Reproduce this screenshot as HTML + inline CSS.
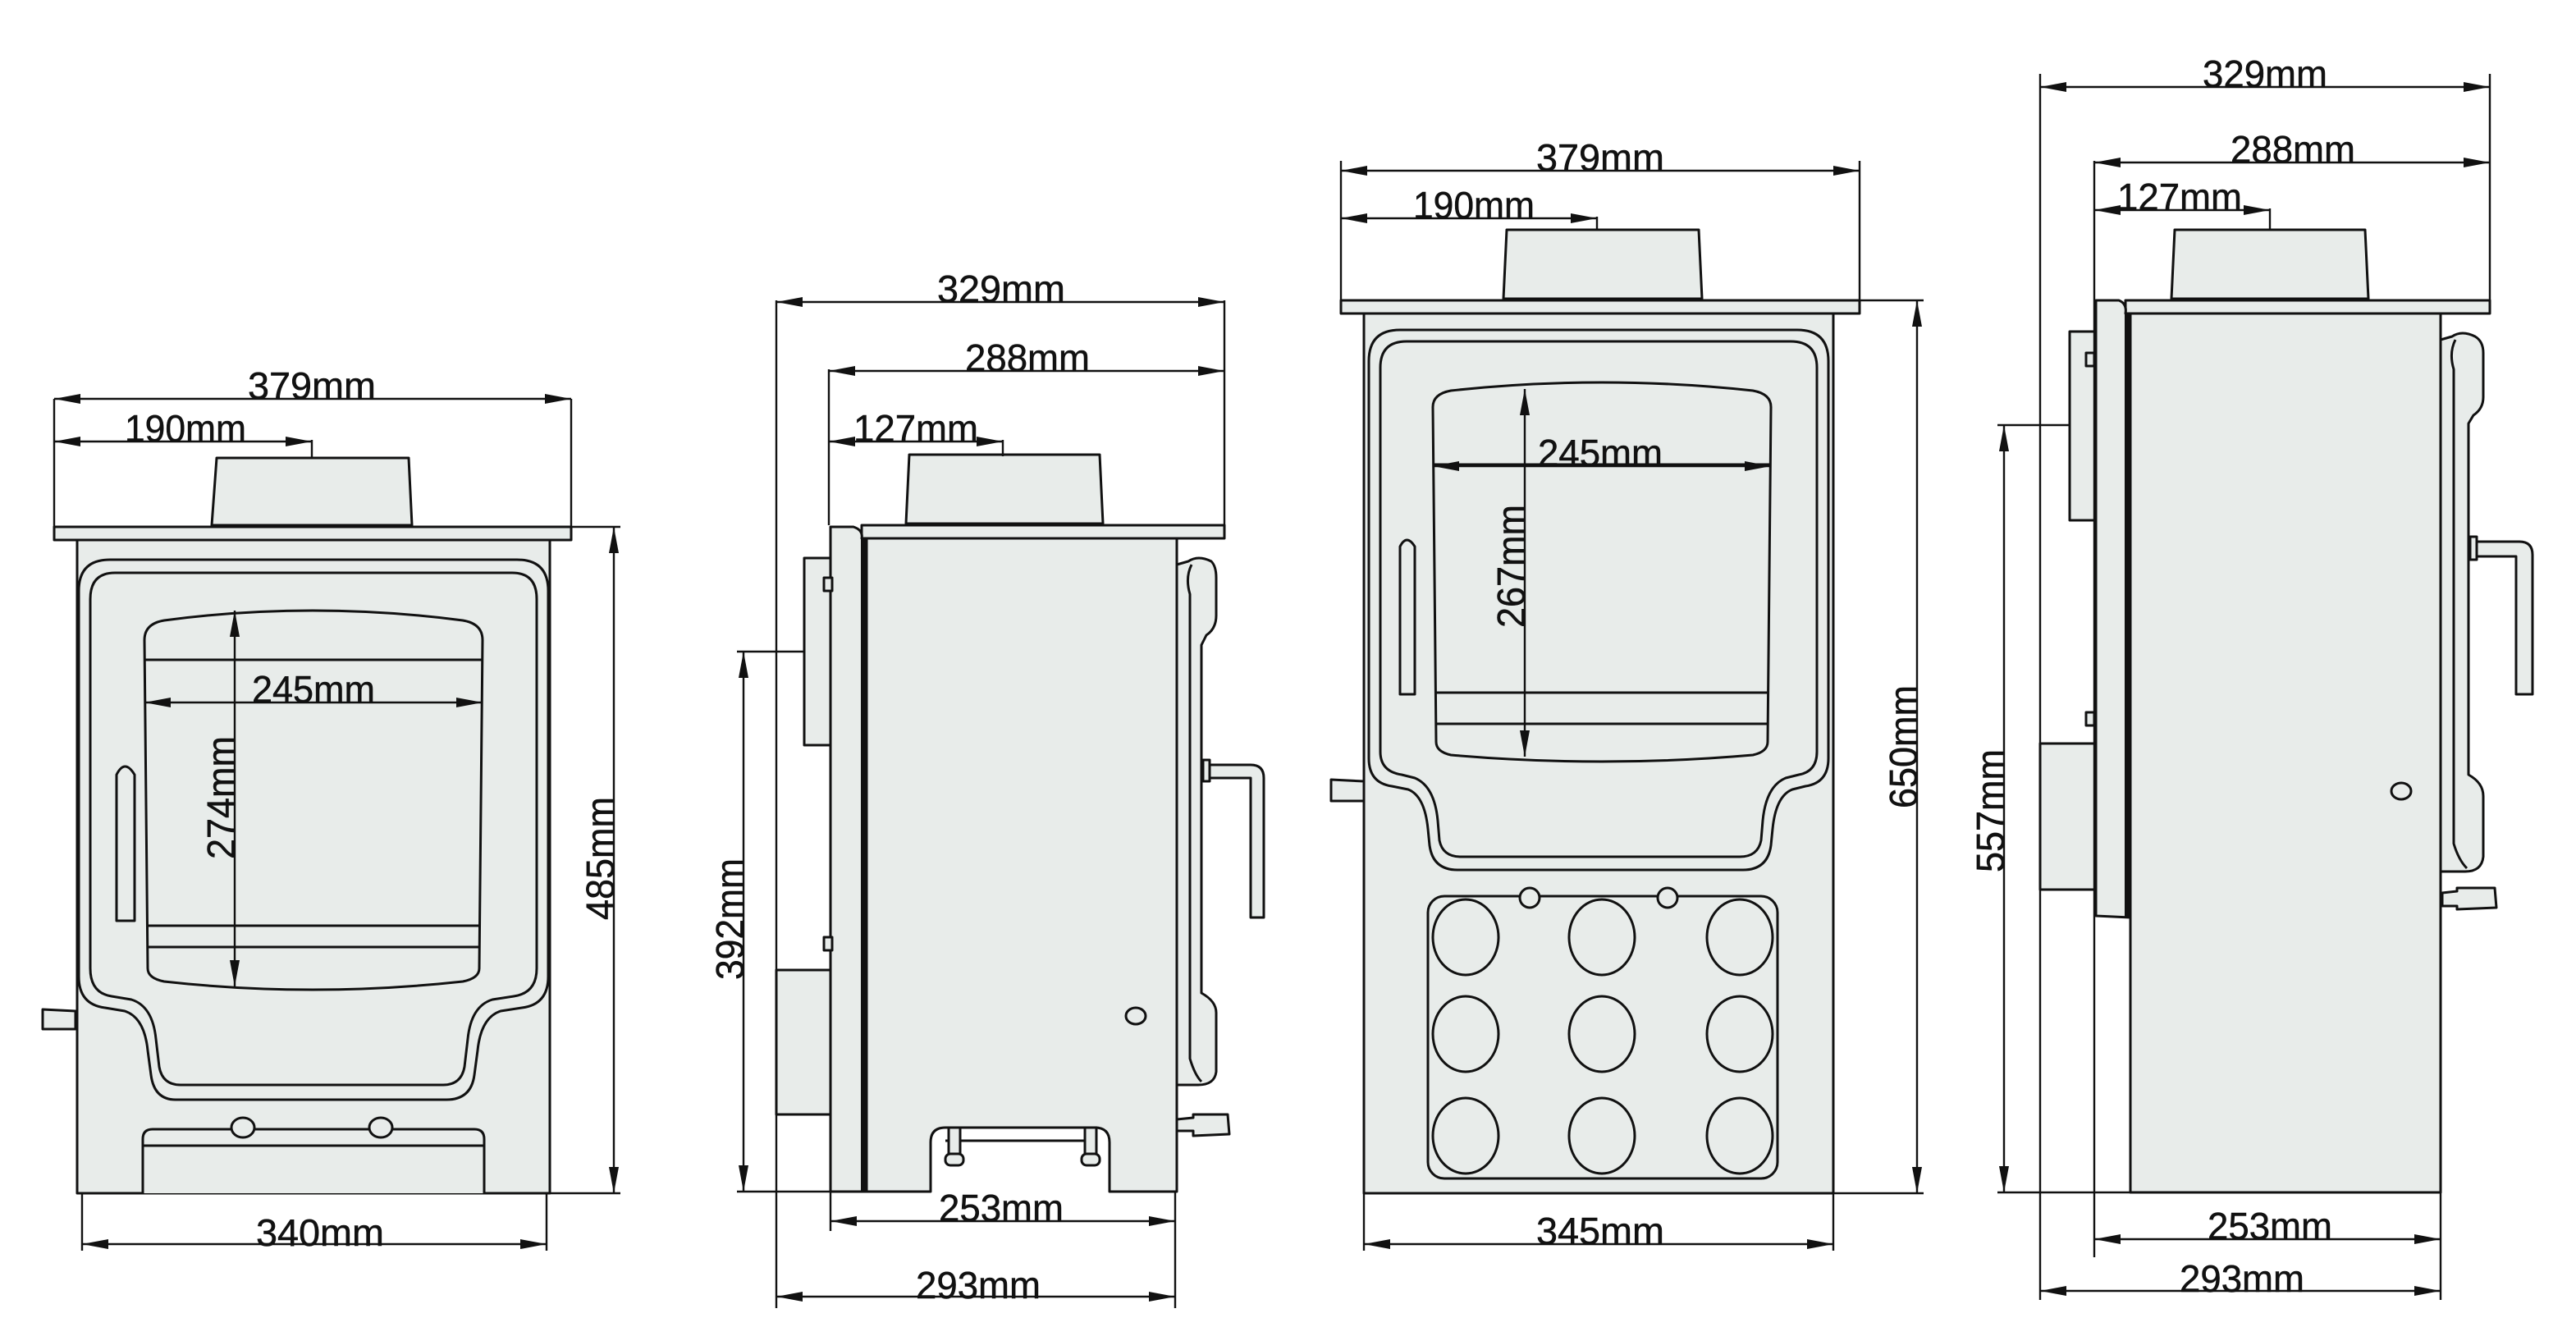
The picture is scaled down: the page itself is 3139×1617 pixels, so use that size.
<!DOCTYPE html>
<html><head><meta charset="utf-8"><style>
html,body{margin:0;padding:0;background:#fff;}
svg{display:block;}
text{font-family:"Liberation Sans",Arial,sans-serif;font-size:23px;fill:#111;stroke:#111;stroke-width:0.25;}
</style></head><body>
<svg width="3139" height="1617" viewBox="0 0 1569.5 808.5" xmlns="http://www.w3.org/2000/svg">
<defs>
<marker id="a" viewBox="0 0 16 6" refX="16" refY="3" markerWidth="16" markerHeight="6" markerUnits="userSpaceOnUse" orient="auto-start-reverse"><path d="M0,0 L16,3 L0,6 Z" fill="#111"/></marker>
</defs>
<rect width="1569.5" height="808.5" fill="#fff"/>
<g fill="#e8ecea" stroke="#111" stroke-width="1.5" stroke-linejoin="round">
<!-- ===== STOVE 1 ===== -->
<path d="M132,279 L249,279 L251,320 L129,320 Z"/>
<rect x="33" y="321" width="315" height="8"/>
<rect x="47" y="329" width="288" height="398"/>
<path d="M48,360 Q48,341 67,341 L315,341 Q334,341 334,360 L334,595 Q334,612 318,614 L305,616 Q293,620 291,640 L289,655 Q287,670 272,670 L107,670 Q94,670 92,655 L90,640 Q88,620 76,616 L64,614 Q48,612 48,595 Z"/>
<path d="M55,365 Q55,349 70,349 L312,349 Q327,349 327,365 L327,590 Q327,605 313,607 L300,609 Q287,613 285,633 L283,650 Q281,661 270,661 L110,661 Q99,661 97,650 L95,633 Q93,613 80,609 L68,607 Q55,605 55,590 Z"/>
<path d="M88,390 Q88,380 100,378 Q190,366 282,378 Q294,380 294,390 L292,590 Q292,596 282,598 Q190,608 100,598 Q90,596 90,590 Z"/>
<line x1="88" y1="402" x2="294" y2="402"/>
<line x1="90" y1="564" x2="292" y2="564"/>
<line x1="90" y1="577" x2="292" y2="577"/>
<path d="M71,561 L71,472 Q76,462 82,472 L82,561 Z"/>
<path d="M26,615 L46,616 L46,627 L26,627 Z"/>
<path d="M87,727 L87,694 Q87,688 93,688 L289,688 Q295,688 295,694 L295,727"/>
<line x1="87" y1="698" x2="295" y2="698"/>
<ellipse cx="148" cy="687" rx="7" ry="6"/>
<ellipse cx="232" cy="687" rx="7" ry="6"/>
<!-- ===== STOVE 2 ===== -->
<rect x="490" y="340" width="16" height="114"/>
<rect x="473" y="591" width="33" height="88"/>
<path d="M554,277 L670,277 L672,319 L552,319 Z"/>
<rect x="525" y="320" width="221" height="8"/>
<path d="M506,321 L520,321 Q526,323 525,328 L528,328 L528,726 L506,726 Z"/>
<line x1="526" y1="328" x2="526" y2="726" stroke-width="3"/>
<path d="M528,328 L717,328 L717,726 L676,726 L676,696 Q676,687 667,687 L576,687 Q567,687 567,696 L567,726 L528,726 Z"/>
<line x1="576" y1="695" x2="667" y2="695"/>
<rect x="578" y="687" width="7" height="20"/><rect x="661" y="687" width="7" height="20"/>
<rect x="576" y="703" width="11" height="7" rx="3"/><rect x="659" y="703" width="11" height="7" rx="3"/>
<rect x="502" y="352" width="5" height="8"/><rect x="502" y="571" width="5" height="8"/>
<ellipse cx="692" cy="619" rx="6" ry="5"/>
<path d="M717,344 L724,342 Q730,338 738,342 Q741,345 741,352 L741,375 Q741,383 735,387 L732,393 L732,605 Q741,610 741,617 L741,653 Q740,661 730,661 L717,661 Z"/>
<path d="M726,344 Q722,352 725,362 L725,645 Q728,655 732,659" fill="none"/>
<path d="M734,466 L762,466 Q770,466 770,474 L770,559 L762,559 L762,474 L735,474 Z"/>
<rect x="733" y="463" width="4" height="13"/>
<path d="M717,682 L727,681 L727,679 L748,679 L749,691 L727,692 L727,689 L717,689 Z"/>
<!-- ===== STOVE 3 ===== -->
<path d="M918,140 L1035,140 L1037,182 L916,182 Z"/>
<rect x="817" y="183" width="316" height="8"/>
<rect x="831" y="191" width="286" height="536"/>
<path d="M834,220 Q834,201 853,201 L1095,201 Q1114,201 1114,220 L1114,462 Q1114,477 1100,479 L1092,481 Q1082,485 1080,505 L1079,515 Q1077,530 1062,530 L888,530 Q873,530 871,515 L870,505 Q868,485 858,481 L848,479 Q834,477 834,462 Z"/>
<path d="M841,224 Q841,208 857,208 L1091,208 Q1107,208 1107,224 L1107,458 Q1107,470 1096,472 L1088,474 Q1076,479 1074,500 L1073,512 Q1071,522 1060,522 L890,522 Q879,522 877,512 L876,500 Q874,479 862,474 L854,472 Q841,470 841,458 Z"/>
<path d="M873,248 Q873,240 884,238 Q976,228 1068,238 Q1079,240 1079,248 L1077,452 Q1077,458 1068,460 Q976,468 884,460 Q875,458 875,452 Z"/>
<line x1="873" y1="283" x2="1079" y2="283"/>
<line x1="875" y1="422" x2="1077" y2="422"/>
<line x1="875" y1="441" x2="1077" y2="441"/>
<path d="M853,423 L853,333 Q857,325 862,333 L862,423 Z"/>
<path d="M811,475 L831,476 L831,488 L811,488 Z"/>
<rect x="870" y="546" width="213" height="172" rx="10"/>
<g>
<ellipse cx="893" cy="571" rx="20" ry="23"/><ellipse cx="976" cy="571" rx="20" ry="23"/><ellipse cx="1060" cy="571" rx="20" ry="23"/>
<ellipse cx="893" cy="630" rx="20" ry="23"/><ellipse cx="976" cy="630" rx="20" ry="23"/><ellipse cx="1060" cy="630" rx="20" ry="23"/>
<ellipse cx="893" cy="692" rx="20" ry="23"/><ellipse cx="976" cy="692" rx="20" ry="23"/><ellipse cx="1060" cy="692" rx="20" ry="23"/>
</g>
<ellipse cx="932" cy="547" rx="6" ry="6"/><ellipse cx="1016" cy="547" rx="6" ry="6"/>
<!-- ===== STOVE 4 ===== -->
<rect x="1261" y="202" width="16" height="115"/>
<rect x="1243" y="453" width="34" height="89"/>
<path d="M1325,140 L1441,140 L1443,182 L1323,182 Z"/>
<rect x="1295" y="183" width="222" height="8"/>
<path d="M1277,183 L1291,183 Q1296,185 1295,191 L1298,191 L1298,559 L1277,558 Z"/>
<line x1="1296" y1="191" x2="1296" y2="559" stroke-width="3"/>
<rect x="1298" y="191" width="189" height="535.5"/>
<rect x="1271" y="215" width="5" height="8"/><rect x="1271" y="434" width="5" height="8"/>
<ellipse cx="1463" cy="482" rx="6" ry="5"/>
<path d="M1487,207 L1494,205 Q1500,201 1508,205 Q1513,208 1513,215 L1513,242 Q1513,249 1507,253 L1504,258 L1504,472 Q1513,477 1513,485 L1513,522 Q1512,531 1502,531 L1487,531 Z"/>
<path d="M1496,207 Q1492,215 1495,225 L1495,514 Q1498,524 1503,529" fill="none"/>
<path d="M1507,330 L1535,330 Q1543,330 1543,338 L1543,423 L1533,423 L1533,339 L1508,339 Z"/>
<rect x="1505" y="327" width="4" height="14"/>
<path d="M1488,544 L1497,543 L1497,541 L1520,541 L1521,553 L1497,554 L1497,552 L1488,552 Z"/>
</g>
<!-- ===== DIMENSIONS ===== -->
<g stroke="#111" stroke-width="1.2" fill="none">
<!-- S1 -->
<line x1="33" y1="243" x2="33" y2="321"/><line x1="348" y1="243" x2="348" y2="321"/>
<line x1="33" y1="243" x2="348" y2="243" marker-start="url(#a)" marker-end="url(#a)"/>
<line x1="33" y1="269" x2="190" y2="269" marker-start="url(#a)" marker-end="url(#a)"/>
<line x1="190" y1="268" x2="190" y2="279"/>
<line x1="88" y1="428" x2="294" y2="428" marker-start="url(#a)" marker-end="url(#a)"/>
<line x1="143" y1="372" x2="143" y2="601" marker-start="url(#a)" marker-end="url(#a)"/>
<line x1="348" y1="321" x2="378" y2="321"/><line x1="335" y1="727" x2="378" y2="727"/>
<line x1="374" y1="321" x2="374" y2="727" marker-start="url(#a)" marker-end="url(#a)"/>
<line x1="50" y1="727" x2="50" y2="762"/><line x1="333" y1="727" x2="333" y2="762"/>
<line x1="50" y1="758" x2="333" y2="758" marker-start="url(#a)" marker-end="url(#a)"/>
<!-- S2 -->
<line x1="473" y1="183" x2="473" y2="797"/><line x1="746" y1="183" x2="746" y2="328"/>
<line x1="473" y1="184" x2="746" y2="184" marker-start="url(#a)" marker-end="url(#a)"/>
<line x1="505" y1="225" x2="505" y2="320"/>
<line x1="505" y1="226" x2="746" y2="226" marker-start="url(#a)" marker-end="url(#a)"/>
<line x1="505" y1="269" x2="611" y2="269" marker-start="url(#a)" marker-end="url(#a)"/>
<line x1="611" y1="268" x2="611" y2="278"/>
<line x1="449" y1="397" x2="490" y2="397"/><line x1="449" y1="726" x2="528" y2="726"/>
<line x1="453" y1="397" x2="453" y2="726" marker-start="url(#a)" marker-end="url(#a)"/>
<line x1="506" y1="726" x2="506" y2="750"/><line x1="716" y1="726" x2="716" y2="797"/>
<line x1="506" y1="744" x2="716" y2="744" marker-start="url(#a)" marker-end="url(#a)"/>
<line x1="473" y1="790" x2="716" y2="790" marker-start="url(#a)" marker-end="url(#a)"/>
<!-- S3 -->
<line x1="817" y1="98" x2="817" y2="183"/><line x1="1133" y1="98" x2="1133" y2="183"/>
<line x1="817" y1="104" x2="1133" y2="104" marker-start="url(#a)" marker-end="url(#a)"/>
<line x1="817" y1="133" x2="973" y2="133" marker-start="url(#a)" marker-end="url(#a)"/>
<line x1="973" y1="132" x2="973" y2="140"/>
<line x1="873" y1="284" x2="1079" y2="284" marker-start="url(#a)" marker-end="url(#a)"/>
<line x1="929" y1="237" x2="929" y2="461" marker-start="url(#a)" marker-end="url(#a)"/>
<line x1="1133" y1="183" x2="1172" y2="183"/><line x1="1117" y1="727" x2="1172" y2="727"/>
<line x1="1168" y1="183" x2="1168" y2="727" marker-start="url(#a)" marker-end="url(#a)"/>
<line x1="831" y1="727" x2="831" y2="762"/><line x1="1117" y1="727" x2="1117" y2="762"/>
<line x1="831" y1="758" x2="1117" y2="758" marker-start="url(#a)" marker-end="url(#a)"/>
<!-- S4 -->
<line x1="1243" y1="45" x2="1243" y2="792"/><line x1="1517" y1="45" x2="1517" y2="191"/>
<line x1="1243" y1="53" x2="1517" y2="53" marker-start="url(#a)" marker-end="url(#a)"/>
<line x1="1276" y1="98" x2="1276" y2="766"/>
<line x1="1276" y1="99" x2="1517" y2="99" marker-start="url(#a)" marker-end="url(#a)"/>
<line x1="1276" y1="128" x2="1383" y2="128" marker-start="url(#a)" marker-end="url(#a)"/>
<line x1="1383" y1="127" x2="1383" y2="140"/>
<line x1="1217" y1="259" x2="1261" y2="259"/><line x1="1217" y1="726.5" x2="1298" y2="726.5"/>
<line x1="1221" y1="259" x2="1221" y2="726.5" marker-start="url(#a)" marker-end="url(#a)"/>
<line x1="1487" y1="726" x2="1487" y2="792"/>
<line x1="1276" y1="755" x2="1487" y2="755" marker-start="url(#a)" marker-end="url(#a)"/>
<line x1="1243" y1="786.5" x2="1487" y2="786.5" marker-start="url(#a)" marker-end="url(#a)"/>
</g>
<!-- ===== LABELS ===== -->
<g text-anchor="middle">
<text x="190" y="243" textLength="78" lengthAdjust="spacingAndGlyphs">379mm</text>
<text x="113" y="269" textLength="74" lengthAdjust="spacingAndGlyphs">190mm</text>
<text x="191" y="428" textLength="75" lengthAdjust="spacingAndGlyphs">245mm</text>
<text x="0" y="0" transform="translate(143,486) rotate(-90)" textLength="75" lengthAdjust="spacingAndGlyphs" style="font-size:24px">274mm</text>
<text x="0" y="0" transform="translate(374,523) rotate(-90)" textLength="75" lengthAdjust="spacingAndGlyphs" style="font-size:24px">485mm</text>
<text x="195" y="759" textLength="78" lengthAdjust="spacingAndGlyphs">340mm</text>

<text x="610" y="184" textLength="78" lengthAdjust="spacingAndGlyphs">329mm</text>
<text x="626" y="226" textLength="76" lengthAdjust="spacingAndGlyphs">288mm</text>
<text x="558" y="269" textLength="76" lengthAdjust="spacingAndGlyphs">127mm</text>
<text x="0" y="0" transform="translate(453,560) rotate(-90)" textLength="74" lengthAdjust="spacingAndGlyphs" style="font-size:24px">392mm</text>
<text x="610" y="744" textLength="76" lengthAdjust="spacingAndGlyphs">253mm</text>
<text x="596" y="791" textLength="76" lengthAdjust="spacingAndGlyphs">293mm</text>

<text x="975" y="104" textLength="78" lengthAdjust="spacingAndGlyphs">379mm</text>
<text x="898" y="133" textLength="74" lengthAdjust="spacingAndGlyphs">190mm</text>
<text x="975" y="284" textLength="76" lengthAdjust="spacingAndGlyphs">245mm</text>
<text x="0" y="0" transform="translate(929,345) rotate(-90)" textLength="75" lengthAdjust="spacingAndGlyphs" style="font-size:24px">267mm</text>
<text x="0" y="0" transform="translate(1168,455) rotate(-90)" textLength="75" lengthAdjust="spacingAndGlyphs" style="font-size:24px">650mm</text>
<text x="975" y="758" textLength="78" lengthAdjust="spacingAndGlyphs">345mm</text>

<text x="1380" y="53" textLength="76" lengthAdjust="spacingAndGlyphs">329mm</text>
<text x="1397" y="99" textLength="76" lengthAdjust="spacingAndGlyphs">288mm</text>
<text x="1328" y="128" textLength="76" lengthAdjust="spacingAndGlyphs">127mm</text>
<text x="0" y="0" transform="translate(1221,494) rotate(-90)" textLength="75" lengthAdjust="spacingAndGlyphs" style="font-size:24px">557mm</text>
<text x="1383" y="755" textLength="76" lengthAdjust="spacingAndGlyphs">253mm</text>
<text x="1366" y="787" textLength="76" lengthAdjust="spacingAndGlyphs">293mm</text>
</g>
</svg>
</body></html>
